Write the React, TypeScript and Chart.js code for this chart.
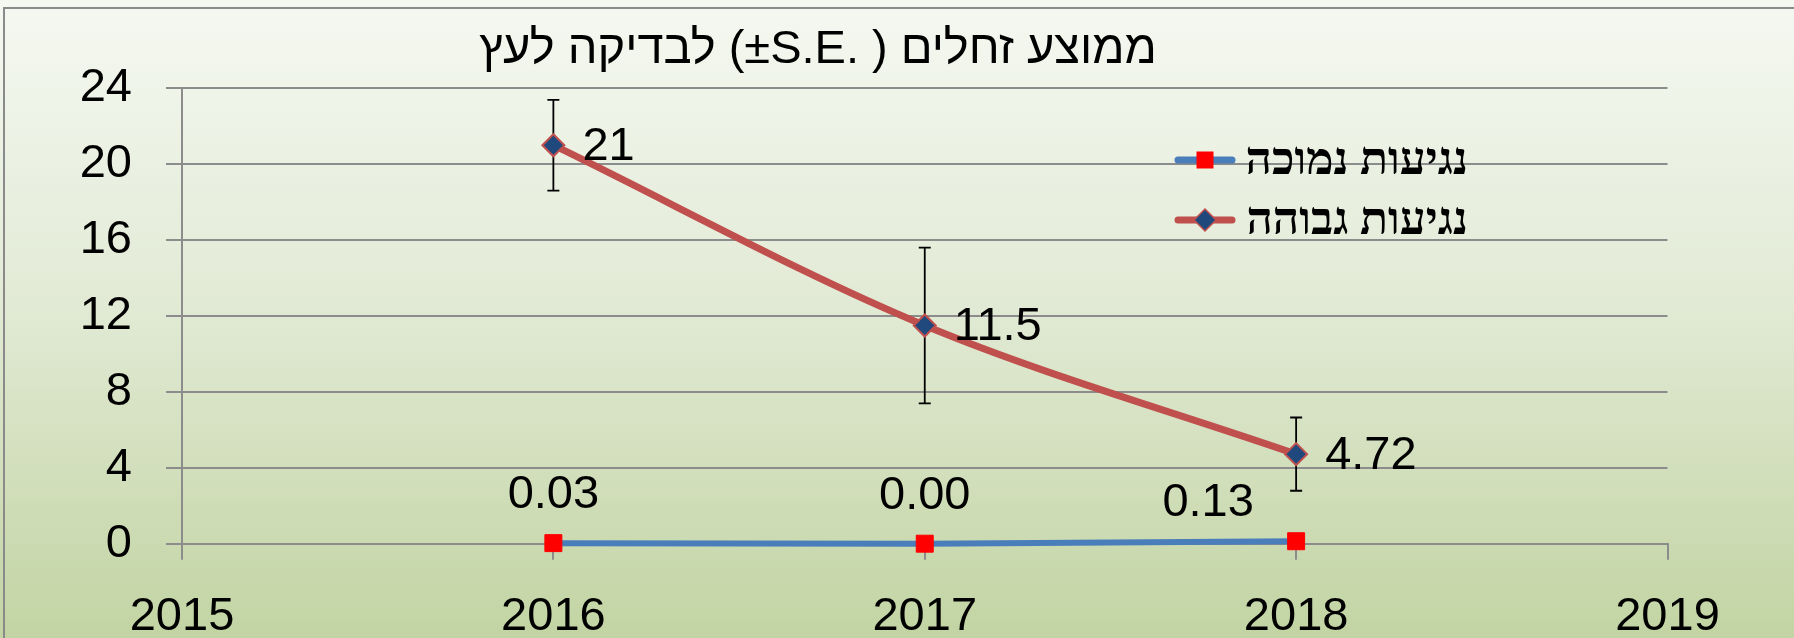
import React, { useEffect, useRef } from 'react';
import { Chart, registerables } from 'chart.js';

Chart.register(...registerables);

// ---- data ----
const years: string[] = ['2015', '2016', '2017', '2018', '2019'];
const lowValues: (number | null)[] = [null, 0.03, 0.0, 0.13, null];
const highValues: (number | null)[] = [null, 21, 11.5, 4.72, null];
const highSE: (number | null)[] = [null, 2.39, 4.1, 1.93, null];
const lowLabels: (string | null)[] = [null, '0.03', '0.00', '0.13', null];
const highLabels: (string | null)[] = [null, '21', '11.5', '4.72', null];
const seriesNames: string[] = ['נגיעות נמוכה', 'נגיעות גבוהה'];
const titleText = 'ממוצע זחלים ( .S.E±) לבדיקה לעץ';
const yMin = 0;
const yMax = 24;
const yStep = 4;

// ---- style ----
const W = 1794;
const H = 638;
const BLUE = '#4A7EBB';
const RED = '#C0504D';
const DIAMOND = '#1F497D';
const SQUARE = '#FF0000';
const GRID = '#8C8C8C';
const NUM_FONT = '"Liberation Sans", Arial, sans-serif';
const NUM_SIZE = 47;
const lowLabelOffsets = [null, [0, -48], [0, -48], [-88, -38], null];

const bgPlugin = {
  id: 'bg',
  beforeDraw(chart: any) {
    const ctx = chart.ctx;
    ctx.save();
    const g = ctx.createLinearGradient(0, 0, 0, H);
    g.addColorStop(0, '#F5F8F1');
    g.addColorStop(0.45, '#E3EBD7');
    g.addColorStop(1, '#C2D4A3');
    ctx.fillStyle = g;
    ctx.fillRect(0, 0, W, H);
    ctx.strokeStyle = '#8A8A8A';
    ctx.lineWidth = 2;
    ctx.beginPath();
    ctx.moveTo(4, H);
    ctx.lineTo(4, 8);
    ctx.lineTo(W, 8);
    ctx.stroke();
    ctx.restore();
  },
};

const errPlugin = {
  id: 'errbars',
  beforeDatasetsDraw(chart: any) {
    const ctx = chart.ctx;
    const y = chart.scales.y;
    const meta = chart.getDatasetMeta(1);
    ctx.save();
    ctx.strokeStyle = '#000';
    ctx.lineWidth = 1.8;
    meta.data.forEach((pt: any, i: number) => {
      const v = highValues[i];
      const se = highSE[i];
      if (v == null || se == null) return;
      const x = pt.x;
      const yt = y.getPixelForValue(v + se);
      const yb = y.getPixelForValue(v - se);
      ctx.beginPath();
      ctx.moveTo(x, yt);
      ctx.lineTo(x, yb);
      ctx.moveTo(x - 6, yt);
      ctx.lineTo(x + 6, yt);
      ctx.moveTo(x - 6, yb);
      ctx.lineTo(x + 6, yb);
      ctx.stroke();
    });
    ctx.restore();
  },
};

const labelPlugin = {
  id: 'labels',
  afterDatasetsDraw(chart: any) {
    const ctx = chart.ctx;
    ctx.save();
    ctx.fillStyle = '#000';
    ctx.font = `${NUM_SIZE}px ${NUM_FONT}`;
    ctx.textBaseline = 'middle';
    const m0 = chart.getDatasetMeta(0);
    m0.data.forEach((pt: any, i: number) => {
      const t = lowLabels[i];
      const off = lowLabelOffsets[i];
      if (t == null || off == null) return;
      ctx.textAlign = 'center';
      ctx.fillText(t, pt.x + off[0], pt.y + off[1]);
    });
    const m1 = chart.getDatasetMeta(1);
    m1.data.forEach((pt: any, i: number) => {
      const t = highLabels[i];
      if (t == null) return;
      ctx.textAlign = 'left';
      ctx.fillText(t, pt.x + 29, pt.y + 2);
    });
    ctx.restore();
  },
};

const titleLegendPlugin = {
  id: 'titleLegend',
  afterDraw(chart: any) {
    const ctx = chart.ctx;
    ctx.save();
    ctx.direction = 'rtl';
    ctx.fillStyle = '#000';
    ctx.textBaseline = 'middle';
    ctx.textAlign = 'center';
    ctx.font = `47px ${NUM_FONT}`;
    ctx.fillText(titleText, 818, 50);

    // legend
    const items = [
      { name: seriesNames[0], color: BLUE, style: 'rect', fill: SQUARE, border: SQUARE, r: 10 },
      { name: seriesNames[1], color: RED, style: 'rectRot', fill: DIAMOND, border: RED, r: 11 },
    ];
    const ys = [160, 220];
    items.forEach((it, k) => {
      const yy = ys[k];
      ctx.strokeStyle = it.color;
      ctx.lineWidth = 7;
      ctx.lineCap = 'round';
      ctx.beginPath();
      ctx.moveTo(1178, yy);
      ctx.lineTo(1232, yy);
      ctx.stroke();
      ctx.lineCap = 'butt';
      ctx.fillStyle = it.fill;
      ctx.strokeStyle = it.border;
      ctx.lineWidth = 1.5;
      if (it.style === 'rect') {
        ctx.fillRect(1205 - 8.5, yy - 8.5, 17, 17);
      } else {
        ctx.beginPath();
        ctx.moveTo(1205, yy - it.r);
        ctx.lineTo(1205 + it.r, yy);
        ctx.lineTo(1205, yy + it.r);
        ctx.lineTo(1205 - it.r, yy);
        ctx.closePath();
        ctx.fill();
        ctx.stroke();
      }
      ctx.fillStyle = '#000';
      ctx.textAlign = 'right';
      ctx.font = `bold 46px "Liberation Serif", "Times New Roman", serif`;
      ctx.fillText(it.name, 1468, yy + 2);
    });
    ctx.restore();
  },
};

export default function App() {
  const ref = useRef<HTMLCanvasElement | null>(null);
  useEffect(() => {
    if (!ref.current) return;
    const chart = new Chart(ref.current, {
      type: 'line',
      data: {
        labels: years,
        datasets: [
          {
            label: seriesNames[0],
            data: lowValues,
            borderColor: BLUE,
            borderWidth: 6,
            pointStyle: 'rect',
            pointRadius: 12,
            pointBackgroundColor: SQUARE,
            pointBorderColor: SQUARE,
            pointBorderWidth: 1,
            tension: 0,
            spanGaps: false,
            clip: false,
          },
          {
            label: seriesNames[1],
            data: highValues,
            borderColor: RED,
            borderWidth: 7,
            pointStyle: 'rectRot',
            pointRadius: 11,
            pointBackgroundColor: DIAMOND,
            pointBorderColor: RED,
            pointBorderWidth: 2,
            tension: 0.33,
            spanGaps: false,
            clip: false,
          },
        ],
      },
      options: {
        animation: false,
        responsive: true,
        maintainAspectRatio: false,
        layout: { padding: { left: 0, right: 126.5, top: 88.3, bottom: 0 } },
        plugins: {
          legend: { display: false },
          title: { display: false },
          tooltip: { enabled: false },
        },
        scales: {
          x: {
            type: 'category',
            offset: false,
            grid: {
              drawOnChartArea: false,
              drawTicks: true,
              tickLength: 16,
              color: GRID,
              lineWidth: 2,
            },
            border: { display: true, color: GRID, width: 2 },
            ticks: {
              color: '#000',
              font: { family: NUM_FONT, size: NUM_SIZE },
              padding: 29,
              maxRotation: 0,
              autoSkip: false,
            },
            afterFit(scale: any) {
              scale.height = H - 543.7;
            },
          },
          y: {
            min: yMin,
            max: yMax,
            grid: {
              drawOnChartArea: true,
              drawTicks: true,
              tickLength: 16,
              color: GRID,
              lineWidth: 2,
            },
            border: { display: true, color: GRID, width: 2 },
            ticks: {
              stepSize: yStep,
              color: '#000',
              font: { family: NUM_FONT, size: NUM_SIZE },
              padding: 34,
            },
            afterFit(scale: any) {
              scale.width = 182;
            },
          },
        },
      },
      plugins: [bgPlugin, errPlugin, labelPlugin, titleLegendPlugin],
    } as any);
    return () => chart.destroy();
  }, []);
  return (
    <div style={{ position: 'absolute', left: 0, top: 0, width: W, height: H }}>
      <canvas ref={ref} />
    </div>
  );
}
